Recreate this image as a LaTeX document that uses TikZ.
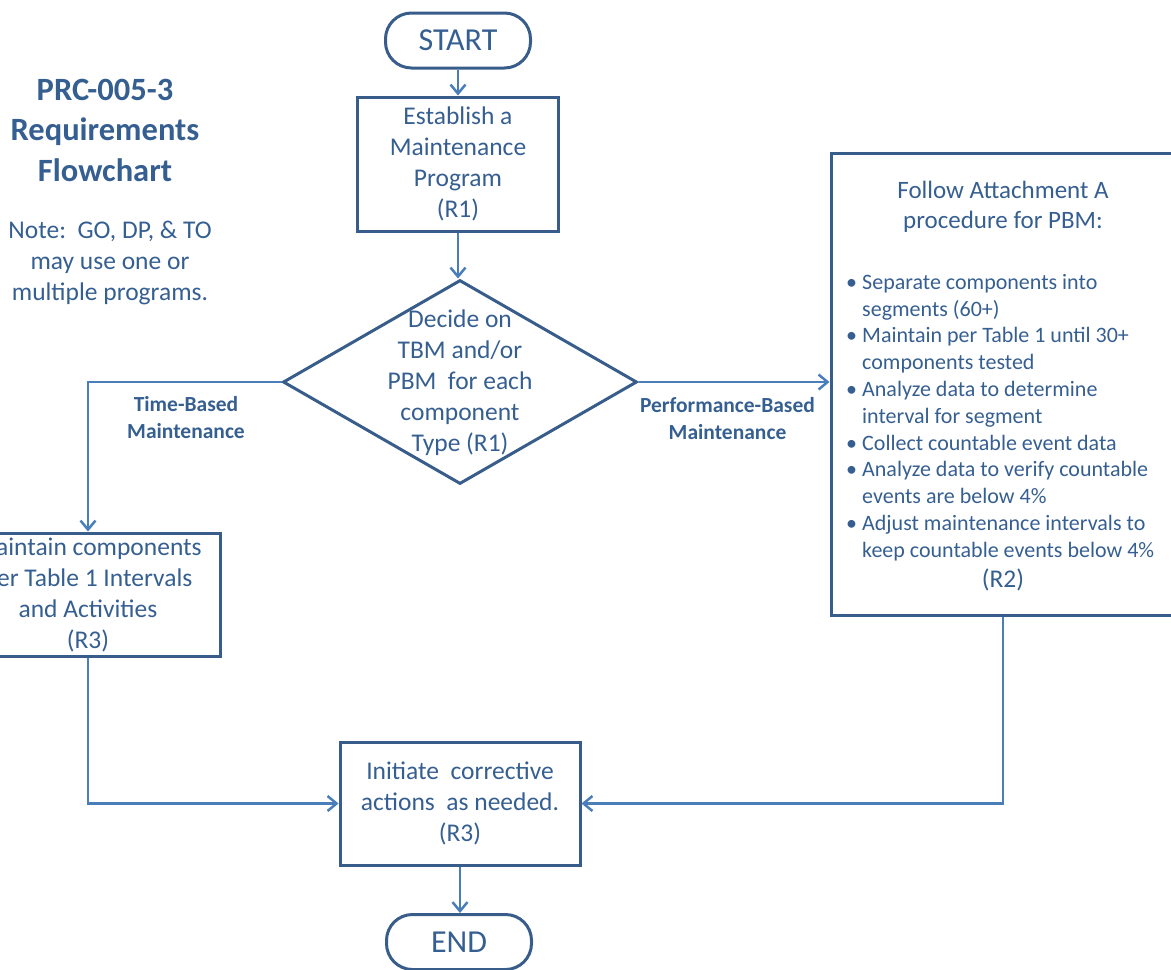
\documentclass[tikz,border=0pt]{standalone}
\usepackage{fontspec}
\setmainfont{Carlito}
\usetikzlibrary{shapes.geometric,arrows.meta}
\definecolor{boxc}{HTML}{385D8A}
\definecolor{linec}{HTML}{4A7EBB}
\definecolor{txtc}{HTML}{365F91}
\tikzset{
  box/.style={draw=boxc, line width=3pt, rectangle, inner sep=0pt},
  term/.style={draw=boxc, line width=3pt, rounded corners=26pt, inner sep=0pt,
    minimum width=145pt, minimum height=55pt, text=txtc,
    font=\fontsize{32}{38}\selectfont},
  body/.style={text=txtc, align=center, inner sep=0pt,
    font=\fontsize{25.5}{31}\selectfont},
  lbl/.style={text=txtc, align=center, inner sep=0pt,
    font=\fontsize{21.5}{27}\selectfont\bfseries},
  conn/.style={draw=linec, line width=2.5pt,
    -{Straight Barb[length=9pt,width=15pt]}},
}
\begin{document}
\begin{tikzpicture}[x=1pt,y=-1pt]
\useasboundingbox (0,0) rectangle (1171,970);
\clip (0,0) rectangle (1171,970);

% title and note
\node (title) [text=txtc, align=center, inner sep=0pt,
  font=\fontsize{32.5}{40.5}\selectfont\bfseries] at (105,130)
  {PRC-005-3\\Requirements\\Flowchart};
\node (note) [body] at (110,263)
  {Note:\ \ GO, DP, \& TO\\may use one or\\multiple programs.};

% nodes
\node (start) [term] at (458,40.5) {START};
\node (est) [box, body, minimum width=201pt, minimum height=134pt] at (458,164)
  {Establish a\\Maintenance\\Program\\(R1)};
\node (dec) [diamond, draw=boxc, line width=3pt, inner sep=0pt,
  minimum width=354pt, minimum height=204pt] at (460,382) {};
\node (dect) [body] at (460,383)
  {Decide on\\TBM and/or\\PBM\ \ for each\\component\\Type (R1)};
\node (lb) [box, body, minimum width=264pt, minimum height=123pt] at (88,594.5)
  {Maintain components\\per Table 1 Intervals\\and Activities\\(R3)};
\node (rb) [box, minimum width=344pt, minimum height=462pt] at (1003,384) {};
\node (rbt) [body, font=\fontsize{25}{30}\selectfont] at (1003,207)
  {Follow Attachment A\\procedure for PBM:};
\node (rbl) [anchor=north west, text=txtc, inner sep=0pt, align=left,
  font=\fontsize{22}{26.8}\selectfont] at (846,274)
  {\makebox[16pt][l]{\textbullet}Separate components into\\
   \hspace*{16pt}segments (60+)\\
   \makebox[16pt][l]{\textbullet}Maintain per Table 1 until 30+\\
   \hspace*{16pt}components tested\\
   \makebox[16pt][l]{\textbullet}Analyze data to determine\\
   \hspace*{16pt}interval for segment\\
   \makebox[16pt][l]{\textbullet}Collect countable event data\\
   \makebox[16pt][l]{\textbullet}Analyze data to verify countable\\
   \hspace*{16pt}events are below 4\%\\
   \makebox[16pt][l]{\textbullet}Adjust maintenance intervals to\\
   \hspace*{16pt}keep countable events below 4\%};
\node (rbr) [body] at (1003,580) {(R2)};
\node (ib) [box, body, minimum width=240pt, minimum height=123pt] at (460,803.5)
  {Initiate\ \ corrective\\actions\ \ as needed.\\(R3)};
\node (end) [term] at (459,942) {END};

% labels
\node (tbl) [lbl] at (186,417.5) {Time-Based\\Maintenance};
\node (pbl) [lbl] at (727.5,418.5) {Performance-Based\\Maintenance};

% connectors
\draw[conn] (start) -- (est);
\draw[conn] (est.south) -- (est.south |- dec.north);
\draw[conn] (dec.west) -| (lb.north);
\draw[conn] (dec.east) -- (dec.east -| rb.west);
\draw[conn] (lb.south) |- (ib.west);
\draw[conn] (rb.south) |- (ib.east);
\draw[conn] (ib.south) -- (ib.south |- end.north);
\end{tikzpicture}
\end{document}
